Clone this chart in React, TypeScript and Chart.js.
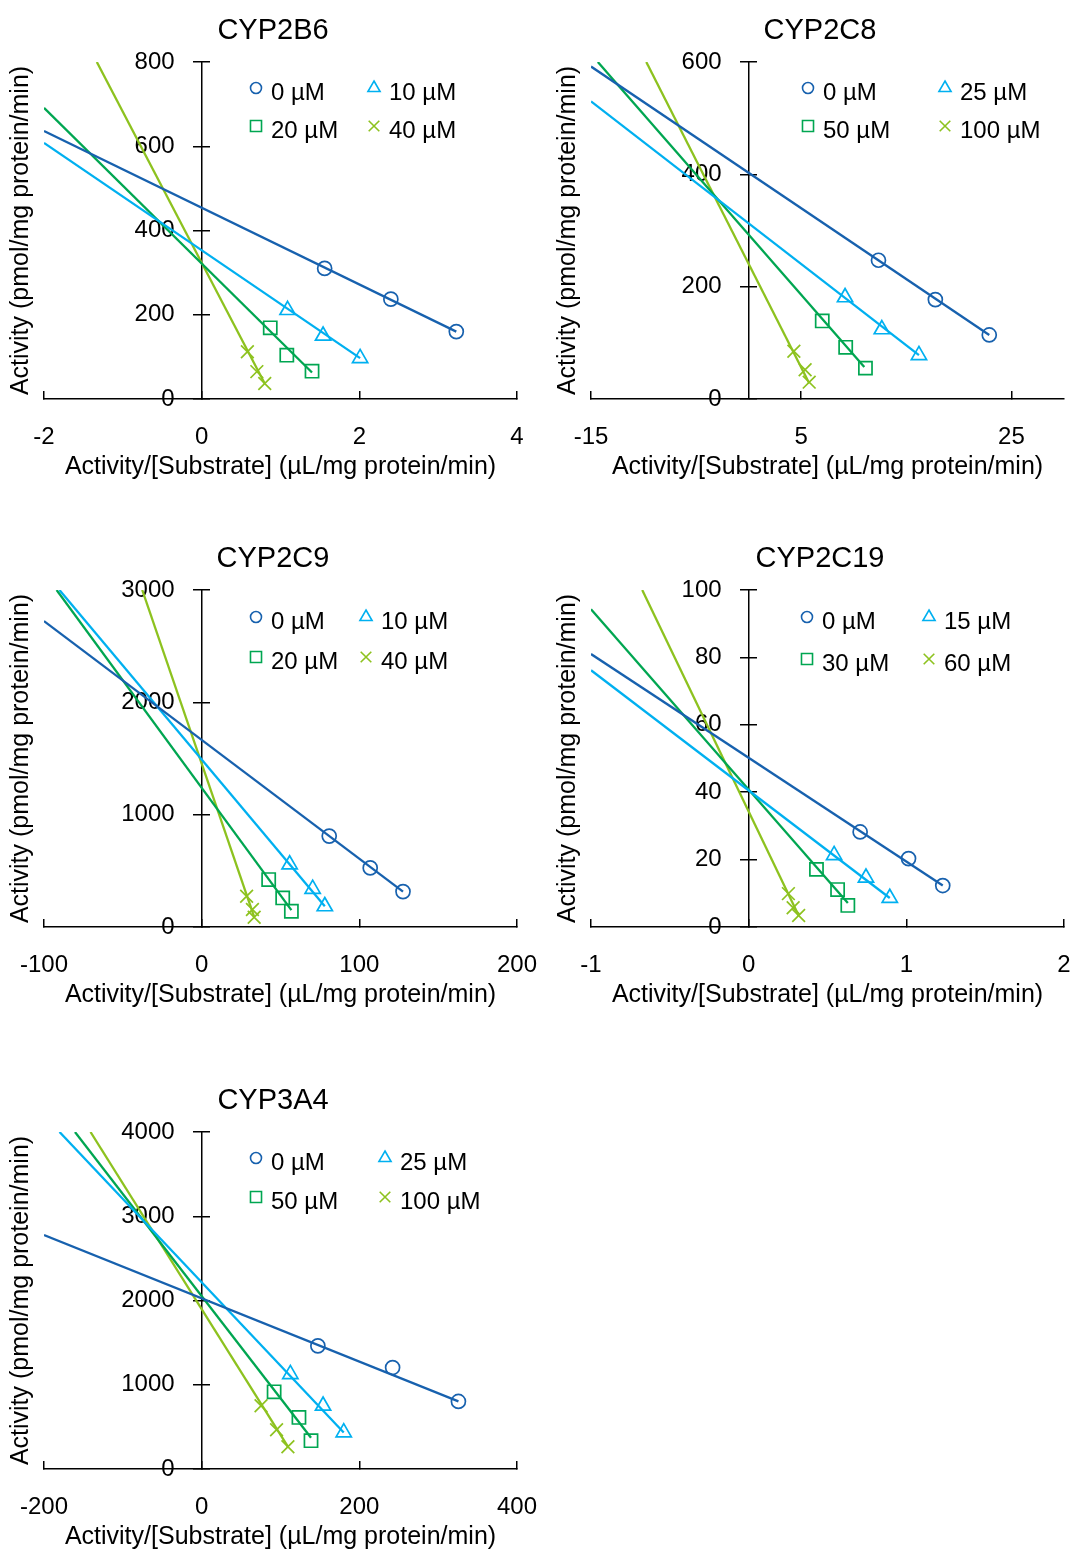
import React, { useEffect, useRef } from 'react';
import { Chart, registerables } from 'chart.js';
import { drawPoint } from 'chart.js/helpers';

Chart.register(...registerables);

const FONT = "'Liberation Sans', Arial, Helvetica, sans-serif";
Chart.defaults.font.family = FONT;
Chart.defaults.color = '#000';

// ---------- shared ----------
const xAxisTitle = 'Activity/[Substrate] (µL/mg protein/min)';
const yAxisTitle = 'Activity (pmol/mg protein/min)';
const seriesColors = ['#1761AE', '#00B0F0', '#00A651', '#8DC21F'];
const seriesStyles = ['circle', 'triangle', 'rect', 'crossRot'];
const markerRadii = [7, 8.8, 9.3, 9];
const legendRadii = [5.5, 7, 7.8, 7.5];

// ---------- CYP2B6 ----------
const cyp2b6Title = 'CYP2B6';
const cyp2b6XTicks = [-2, 0, 2, 4];
const cyp2b6YTicks = [0, 200, 400, 600, 800];
const cyp2b6Labels = ['0 µM', '10 µM', '20 µM', '40 µM'];
const cyp2b6PointX = [[1.56, 2.40, 3.23], [1.09, 1.54, 2.01], [0.87, 1.08, 1.40], [0.58, 0.70, 0.80]];
const cyp2b6PointY = [[310, 237, 160], [211, 150, 97], [169, 104, 66], [112, 65, 37]];
const cyp2b6LineX = [[-2, 3.23], [-2, 2.01], [-2, 1.40], [-1.33, 0.80]];
const cyp2b6LineY = [[636, 160], [608, 97], [691, 63], [800, 37]];

// ---------- CYP2C8 ----------
const cyp2c8Title = 'CYP2C8';
const cyp2c8XTicks = [-15, 5, 25];
const cyp2c8YTicks = [0, 200, 400, 600];
const cyp2c8Labels = ['0 µM', '25 µM', '50 µM', '100 µM'];
const cyp2c8PointX = [[12.35, 17.76, 22.89], [9.17, 12.67, 16.2], [7.0, 9.23, 11.11], [4.30, 5.37, 5.76]];
const cyp2c8PointY = [[247, 177, 114], [181, 124, 78], [139, 92, 55], [85, 52, 30]];
const cyp2c8LineX = [[-15, 22.89], [-15, 16.2], [-14.35, 11.0], [-9.74, 5.76]];
const cyp2c8LineY = [[592, 114], [530, 78], [600, 57], [600, 28]];

// ---------- CYP2C9 ----------
const cyp2c9Title = 'CYP2C9';
const cyp2c9XTicks = [-100, 0, 100, 200];
const cyp2c9YTicks = [0, 1000, 2000, 3000];
const cyp2c9Labels = ['0 µM', '10 µM', '20 µM', '40 µM'];
const cyp2c9PointX = [[80.9, 106.9, 127.7], [55.8, 70.4, 78.1], [42.5, 51.4, 56.9], [28.5, 32.2, 33.3]];
const cyp2c9PointY = [[809, 526, 315], [556, 339, 184], [422, 259, 140], [274, 155, 86]];
const cyp2c9LineX = [[-100, 127.7], [-90.2, 78.1], [-92, 56.9], [-37.7, 33.3]];
const cyp2c9LineY = [[2723, 315], [3000, 184], [3000, 150], [3000, 90]];

// ---------- CYP2C19 ----------
const cyp2c19Title = 'CYP2C19';
const cyp2c19XTicks = [-1, 0, 1, 2];
const cyp2c19YTicks = [0, 20, 40, 60, 80, 100];
const cyp2c19Labels = ['0 µM', '15 µM', '30 µM', '60 µM'];
const cyp2c19PointX = [[0.707, 1.014, 1.231], [0.542, 0.744, 0.895], [0.43, 0.564, 0.629], [0.252, 0.282, 0.317]];
const cyp2c19PointY = [[28.2, 20.3, 12.3], [21.3, 14.6, 8.6], [17.1, 11.1, 6.4], [9.9, 5.7, 3.4]];
const cyp2c19LineX = [[-1, 1.231], [-1, 0.895], [-1, 0.629], [-0.675, 0.317]];
const cyp2c19LineY = [[81, 12.3], [76.2, 8.6], [94.3, 7.1], [100, 3.4]];

// ---------- CYP3A4 ----------
const cyp3a4Title = 'CYP3A4';
const cyp3a4XTicks = [-200, 0, 200, 400];
const cyp3a4YTicks = [0, 1000, 2000, 3000, 4000];
const cyp3a4Labels = ['0 µM', '25 µM', '50 µM', '100 µM'];
const cyp3a4PointX = [[147.4, 242.2, 325.7], [112.5, 154, 180.2], [91.9, 123.4, 138.7], [75.3, 95, 109.4]];
const cyp3a4PointY = [[1461, 1204, 802], [1125, 750, 434], [916, 612, 336], [750, 466, 265]];
const cyp3a4LineX = [[-200, 325.7], [-180.3, 180.2], [-160.7, 138.7], [-141, 109.4]];
const cyp3a4LineY = [[2776, 802], [4000, 434], [4000, 370], [4000, 265]];

type PanelSpec = {
  title: string;
  xTicks: number[];
  yTicks: number[];
  xMax: number;
  labels: string[];
  px: number[][];
  py: number[][];
  lx: number[][];
  ly: number[][];
  legendCols: number[];
  legendRows: number[];
  left: number;
  top: number;
};

const panels: PanelSpec[] = [
  { title: cyp2b6Title, xTicks: cyp2b6XTicks, yTicks: cyp2b6YTicks, xMax: 4, labels: cyp2b6Labels, px: cyp2b6PointX, py: cyp2b6PointY, lx: cyp2b6LineX, ly: cyp2b6LineY, legendCols: [212, 330], legendRows: [26, 64], left: 0, top: 0 },
  { title: cyp2c8Title, xTicks: cyp2c8XTicks, yTicks: cyp2c8YTicks, xMax: 30, labels: cyp2c8Labels, px: cyp2c8PointX, py: cyp2c8PointY, lx: cyp2c8LineX, ly: cyp2c8LineY, legendCols: [217, 354], legendRows: [26, 64], left: 547, top: 0 },
  { title: cyp2c9Title, xTicks: cyp2c9XTicks, yTicks: cyp2c9YTicks, xMax: 200, labels: cyp2c9Labels, px: cyp2c9PointX, py: cyp2c9PointY, lx: cyp2c9LineX, ly: cyp2c9LineY, legendCols: [212, 322], legendRows: [27, 67], left: 0, top: 528 },
  { title: cyp2c19Title, xTicks: cyp2c19XTicks, yTicks: cyp2c19YTicks, xMax: 2, labels: cyp2c19Labels, px: cyp2c19PointX, py: cyp2c19PointY, lx: cyp2c19LineX, ly: cyp2c19LineY, legendCols: [216, 338], legendRows: [27, 69], left: 547, top: 528 },
  { title: cyp3a4Title, xTicks: cyp3a4XTicks, yTicks: cyp3a4YTicks, xMax: 400, labels: cyp3a4Labels, px: cyp3a4PointX, py: cyp3a4PointY, lx: cyp3a4LineX, ly: cyp3a4LineY, legendCols: [212, 341], legendRows: [26, 65], left: 0, top: 1070 },
];

const CANVAS_W = 546;
const CANVAS_H = 490;
const Y_LABEL_GAP = 27;   // gap between y-axis line and right edge of its labels
const X_LABEL_DROP = 31.6; // extra drop of x tick labels below the axis

// shifts the tick labels of the centred y axis left of the axis line and drops x labels
const labelShiftPlugin = {
  id: 'labelShift',
  beforeDraw(chart: any) {
    const ys = chart.scales.y;
    const xs = chart.scales.x;
    if (ys) {
      ys.getLabelItems().forEach((it: any) => {
        if (!it.__shifted) { it.options.translation[0] -= Y_LABEL_GAP; it.__shifted = true; }
      });
    }
    if (xs) {
      xs.getLabelItems().forEach((it: any) => {
        if (!it.__shifted) { it.options.translation[1] += X_LABEL_DROP; it.__shifted = true; }
      });
    }
  },
};

function Panel({ spec }: { spec: PanelSpec }) {
  const ref = useRef<HTMLCanvasElement | null>(null);
  useEffect(() => {
    if (!ref.current) return;
    const datasets: any[] = [];
    spec.labels.forEach((lab, i) => {
      datasets.push({
        type: 'line',
        label: lab + ' fit',
        data: spec.lx[i].map((x, j) => ({ x, y: spec.ly[i][j] })),
        borderColor: seriesColors[i],
        borderWidth: 2.3,
        pointRadius: 0,
        fill: false,
        tension: 0,
        yAxisID: 'y',
        xAxisID: 'x',
      });
      datasets.push({
        type: 'scatter',
        label: lab,
        data: spec.px[i].map((x, j) => ({ x, y: spec.py[i][j] })),
        pointStyle: seriesStyles[i],
        pointRadius: markerRadii[i],
        pointBorderWidth: 1.7,
        borderColor: seriesColors[i],
        backgroundColor: 'rgba(0,0,0,0)',
        showLine: false,
        yAxisID: 'y',
        xAxisID: 'x',
      });
    });
    const xMin = spec.xTicks[0];
    const yMin = spec.yTicks[0];
    const yMax = spec.yTicks[spec.yTicks.length - 1];
    const setX = (s: any) => { s.ticks = spec.xTicks.map((v) => ({ value: v })); };
    const setY = (s: any) => { s.ticks = spec.yTicks.map((v) => ({ value: v })); };

    const legendPlugin = {
      id: 'inlineLegend',
      afterDraw(chart: any) {
        const ctx = chart.ctx;
        const area = chart.chartArea;
        ctx.save();
        spec.labels.forEach((lab, i) => {
          const mx = area.left + spec.legendCols[i % 2];
          const my = area.top + spec.legendRows[Math.floor(i / 2)];
          ctx.strokeStyle = seriesColors[i];
          ctx.fillStyle = 'rgba(0,0,0,0)';
          ctx.lineWidth = 1.6;
          drawPoint(ctx, { pointStyle: seriesStyles[i], radius: legendRadii[i], borderWidth: 1.6, rotation: 0 } as any, mx, my);
          ctx.fillStyle = '#000';
          ctx.font = `24px ${FONT}`;
          ctx.textAlign = 'left';
          ctx.textBaseline = 'middle';
          ctx.fillText(lab, mx + 15, my + 5);
        });
        ctx.restore();
      },
    };

    const tickFont = { size: 24, family: FONT };
    const axisTitleFont = { size: 25, family: FONT };
    const chart = new Chart(ref.current, {
      type: 'scatter',
      data: { datasets },
      plugins: [labelShiftPlugin, legendPlugin],
      options: {
        responsive: false,
        animation: false,
        devicePixelRatio: 1,
        events: [],
        layout: { padding: { left: 0, right: 0, top: 0, bottom: 8 } },
        plugins: {
          legend: { display: false },
          tooltip: { enabled: false },
          title: {
            display: true,
            text: spec.title,
            color: '#000',
            font: { size: 29, weight: 'normal', family: FONT },
            padding: { top: 14, bottom: 13.2 },
          },
        },
        scales: {
          x: {
            type: 'linear',
            axis: 'x',
            position: 'bottom',
            min: xMin,
            max: spec.xMax,
            afterBuildTicks: setX,
            ticks: { font: tickFont, color: '#000', padding: 0, maxRotation: 0, autoSkip: false, callback: (v: any) => String(v) },
            grid: { display: true, drawOnChartArea: false, drawTicks: true, tickLength: -8, color: '#000', lineWidth: 1.5 },
            border: { display: true, color: '#000', width: 1.5 },
            title: { display: true, text: xAxisTitle, color: '#000', font: axisTitleFont, padding: { top: 32.2, bottom: 0 } },
          },
          y: {
            type: 'linear',
            axis: 'y',
            position: { x: 0 },
            min: yMin,
            max: yMax,
            afterBuildTicks: setY,
            ticks: { font: tickFont, color: '#000', padding: 0, autoSkip: false, callback: (v: any) => String(v) },
            grid: { display: true, drawOnChartArea: false, drawTicks: true, tickLength: 8, color: '#000', lineWidth: 1.5 },
            border: { display: true, color: '#000', width: 1.5 },
          },
          y2: {
            type: 'linear',
            axis: 'y',
            position: { x: 0 },
            min: yMin,
            max: yMax,
            afterBuildTicks: setY,
            ticks: { display: false },
            grid: { display: true, drawOnChartArea: false, drawTicks: true, tickLength: -8, color: '#000', lineWidth: 1.5 },
            border: { display: false },
          },
          yTitle: {
            type: 'linear',
            axis: 'y',
            position: 'left',
            min: 0,
            max: 1,
            ticks: { display: false },
            grid: { display: false, drawTicks: false },
            border: { display: false },
            title: { display: true, text: yAxisTitle, color: '#000', font: axisTitleFont, padding: { top: 6, bottom: 8 } },
          },
          // empty right-hand spacer so the title stays centred on the whole panel
          yPad: {
            type: 'linear',
            axis: 'y',
            position: 'right',
            min: 0,
            max: 1,
            ticks: { display: false },
            grid: { display: false, drawTicks: true, tickLength: 29 },
            border: { display: false },
          },
        },
      } as any,
    });
    return () => chart.destroy();
  }, [spec]);
  return (
    <canvas
      ref={ref}
      width={CANVAS_W}
      height={CANVAS_H}
      style={{ position: 'absolute', left: spec.left, top: spec.top, display: 'block', width: CANVAS_W, height: CANVAS_H }}
    />
  );
}

export default function App() {
  return (
    <div style={{ position: 'absolute', left: 0, top: 0, width: 1075, height: 1549, overflow: 'hidden', background: '#fff' }}>
      {panels.map((p) => (
        <Panel key={p.title} spec={p} />
      ))}
    </div>
  );
}
